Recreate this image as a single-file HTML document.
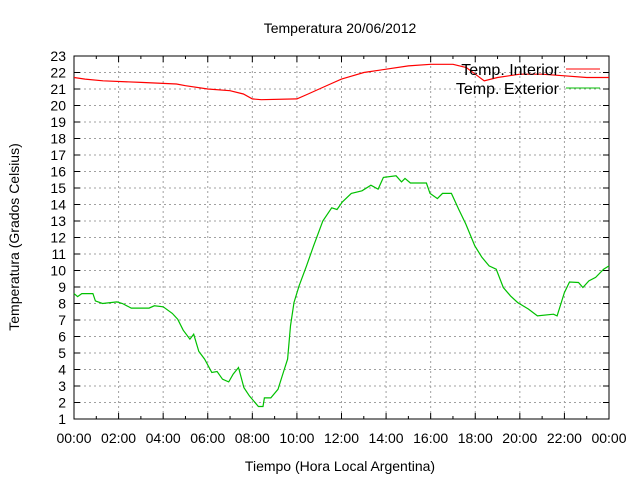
<!DOCTYPE html>
<html><head><meta charset="utf-8"><style>
body{margin:0;background:#fff}
svg text{font-family:"Liberation Sans",sans-serif;font-size:14px;fill:#000}
svg text.leg{font-size:16px}
</style></head><body>
<svg width="640" height="480">
<g id="grid"></g>
<g id="ticks"></g>
<rect x="74" y="56" width="535" height="363" fill="none" stroke="#000" stroke-width="1"/>
<g id="series"></g>
<text x="340" y="33" text-anchor="middle">Temperatura 20/06/2012</text>
<text x="340" y="471" text-anchor="middle">Tiempo (Hora Local Argentina)</text>
<text transform="translate(19,237) rotate(-90)" text-anchor="middle">Temperatura (Grados Celsius)</text>
<g>
<text class="leg" x="559" y="75" text-anchor="end">Temp. Interior</text>
<line x1="566" y1="69" x2="600" y2="69" stroke="#f00"/>
<text class="leg" x="559" y="94" text-anchor="end">Temp. Exterior</text>
<line x1="566" y1="88" x2="600" y2="88" stroke="#00c000"/>
</g>
</svg>
<script>
const xTickLabels=["00:00","02:00","04:00","06:00","08:00","10:00","12:00","14:00","16:00","18:00","20:00","22:00","00:00"];
const yTicks=[1,2,3,4,5,6,7,8,9,10,11,12,13,14,15,16,17,18,19,20,21,22,23];
const interiorHours=[0,0.5,1.3,3,4.6,5,6,7,7.6,8,8.4,10,10.5,11,11.5,12,12.5,13,14,15,16,17,17.6,18,18.4,19,20,21,22,23,24];
const interiorTemp=[21.7,21.6,21.5,21.4,21.3,21.2,21.0,20.9,20.7,20.4,20.35,20.4,20.7,21.0,21.3,21.6,21.8,22.0,22.2,22.4,22.5,22.5,22.3,21.9,21.5,21.7,21.9,21.9,21.8,21.7,21.7];
const exteriorHours=[0,0.16,0.35,0.85,0.96,1.28,1.93,2.17,2.57,3.37,3.6,4.0,4.41,4.65,4.9,5.2,5.37,5.6,5.86,6.18,6.42,6.66,6.94,7.14,7.38,7.62,7.87,8.27,8.48,8.54,8.83,9.15,9.39,9.58,9.71,9.87,10.1,10.43,10.75,11.16,11.56,11.8,12.04,12.44,12.92,13.32,13.64,13.88,14.45,14.69,14.85,15.09,15.81,15.97,16.3,16.53,16.93,17.26,17.58,17.98,18.3,18.62,18.94,19.26,19.58,19.9,20.39,20.79,21.51,21.67,22.0,22.23,22.63,22.83,23.1,23.4,23.76,24.0];
const exteriorTemp=[8.6,8.42,8.6,8.6,8.16,8.0,8.1,8.0,7.72,7.72,7.86,7.8,7.4,7.05,6.38,5.84,6.14,5.1,4.63,3.82,3.88,3.41,3.25,3.72,4.12,2.9,2.4,1.76,1.76,2.28,2.28,2.8,3.82,4.63,6.65,8.06,9.07,10.28,11.5,13.0,13.8,13.7,14.16,14.67,14.83,15.17,14.93,15.64,15.74,15.37,15.58,15.3,15.3,14.67,14.36,14.67,14.67,13.7,12.8,11.5,10.8,10.28,10.08,8.97,8.46,8.06,7.66,7.25,7.35,7.25,8.66,9.3,9.27,8.97,9.37,9.58,10.08,10.28];
const X0=74,X1=609,Y0=419,Y1=56,YMIN=1,YMAX=23;
const xs=h=>X0+(X1-X0)*h/24;
const ys=v=>Y0-(Y0-Y1)*(v-YMIN)/(YMAX-YMIN);
const NS="http://www.w3.org/2000/svg";
const grid=document.getElementById('grid'),ticks=document.getElementById('ticks'),series=document.getElementById('series');
function mk(tag,attrs,parent){const e=document.createElementNS(NS,tag);for(const k in attrs)e.setAttribute(k,attrs[k]);parent.appendChild(e);return e;}
yTicks.forEach(v=>{
 const y=ys(v);
 if(v>YMIN&&v<YMAX){const g=mk('line',{x1:X0,x2:X1,y1:y,y2:y,stroke:'#a0a0a0','stroke-dasharray':'2,3'},grid);
 
 }
 const t=mk('text',{x:X0-8,y:y+5,'text-anchor':'end'},ticks);t.textContent=v;
 
 
 const a=mk('line',{x1:X0,x2:X0+6,y1:y,y2:y,stroke:'#000'},ticks);
 
 
 const b=mk('line',{x1:X1-6,x2:X1,y1:y,y2:y,stroke:'#000'},ticks);
 
 
});
for(let i=0;i<=24;i++){
 const x=xs(i),major=i%2===0,len=major?6:3;
 if(major&&i>0&&i<24){const g=mk('line',{x1:x,x2:x,y1:Y1,y2:Y0,stroke:'#a0a0a0','stroke-dasharray':'2,3'},grid);
 
 }
 const a=mk('line',{x1:x,x2:x,y1:Y0,y2:Y0-len,stroke:'#000'},ticks);
 
 
 const b=mk('line',{x1:x,x2:x,y1:Y1,y2:Y1+len,stroke:'#000'},ticks);
 
 
 if(major){const t=mk('text',{x:x,y:Y0+24,'text-anchor':'middle'},ticks);t.textContent=xTickLabels[i/2];
 
 }
}
function path(hs,vs,color){let d='';hs.forEach((h,i)=>{d+=(i?'L':'M')+xs(h).toFixed(1)+','+ys(vs[i]).toFixed(1);});return mk('path',{d:d,fill:'none',stroke:color,'stroke-width':1.2},series);}
const pi=path(interiorHours,interiorTemp,'#f00');


const pe=path(exteriorHours,exteriorTemp,'#00c000');


</script>
</body></html>
